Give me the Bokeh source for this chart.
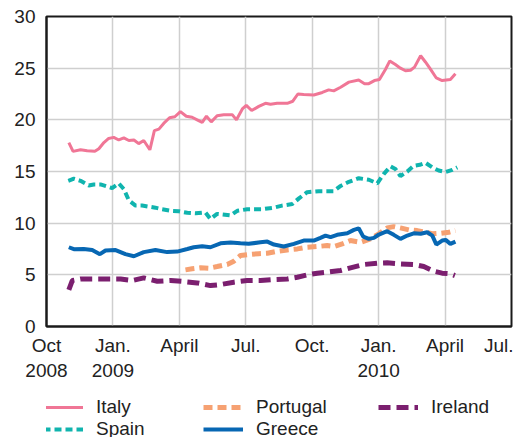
from bokeh.plotting import figure
from bokeh.layouts import column
from bokeh.models import Range1d, FixedTicker, Legend, LegendItem
from bokeh.embed import file_html
from bokeh.resources import INLINE

# x values are decimal years (Oct 2008 = 2008.75)
italy_x = [2008.834, 2008.850, 2008.878, 2008.903, 2008.932, 2008.947, 2008.966, 2008.984,
           2009.003, 2009.022, 2009.041, 2009.060, 2009.079, 2009.097, 2009.116, 2009.139,
           2009.156, 2009.173, 2009.191, 2009.213, 2009.233, 2009.254, 2009.276, 2009.298,
           2009.317, 2009.336, 2009.352, 2009.370, 2009.392, 2009.417, 2009.449, 2009.465,
           2009.487, 2009.502, 2009.522, 2009.549, 2009.574, 2009.593, 2009.618, 2009.656,
           2009.677, 2009.696, 2009.718, 2009.756, 2009.788, 2009.812, 2009.831, 2009.857,
           2009.888, 2009.925, 2009.947, 2009.963, 2009.984, 2010.003, 2010.026, 2010.042,
           2010.063, 2010.082, 2010.101, 2010.120, 2010.135, 2010.158, 2010.176, 2010.195,
           2010.217, 2010.239, 2010.270, 2010.289]
italy_y = [17.8, 16.95, 17.1, 17.0, 16.95, 17.2, 17.8, 18.2, 18.3, 18.05, 18.25, 18.0, 18.05,
           17.7, 18.0, 17.1, 18.95, 19.1, 19.65, 20.2, 20.3, 20.8, 20.35, 20.25, 20.0, 19.75,
           20.35, 19.8, 20.4, 20.5, 20.5, 20.0, 21.05, 21.4, 20.9, 21.3, 21.6, 21.5, 21.6, 21.6,
           21.8, 22.5, 22.45, 22.4, 22.65, 22.9, 22.8, 23.15, 23.65, 23.85, 23.5, 23.5, 23.8,
           23.9, 24.9, 25.7, 25.35, 25.0, 24.75, 24.8, 25.1, 26.2, 25.6, 24.9, 24.05, 23.8,
           23.9, 24.45]

spain_x = [2008.832, 2008.853, 2008.878, 2008.909, 2008.928, 2008.953, 2008.978, 2008.997,
           2009.022, 2009.041, 2009.060, 2009.085, 2009.110, 2009.135, 2009.160, 2009.185,
           2009.217, 2009.248, 2009.280, 2009.311, 2009.348, 2009.367, 2009.392, 2009.443,
           2009.468, 2009.505, 2009.562, 2009.606, 2009.637, 2009.675, 2009.700, 2009.731,
           2009.775, 2009.831, 2009.857, 2009.888, 2009.925, 2009.963, 2009.995, 2010.019,
           2010.045, 2010.063, 2010.082, 2010.108, 2010.132, 2010.155, 2010.176, 2010.202,
           2010.226, 2010.252, 2010.277, 2010.296]
spain_y = [14.1, 14.3, 14.1, 13.65, 13.75, 13.75, 13.55, 13.4, 13.85, 13.3, 12.2, 11.7, 11.7,
           11.6, 11.5, 11.35, 11.2, 11.15, 11.0, 10.95, 11.05, 10.4, 10.9, 10.75, 11.2, 11.35,
           11.35, 11.5, 11.7, 11.85, 12.4, 13.0, 13.1, 13.1, 13.6, 14.0, 14.35, 14.2, 13.85,
           14.75, 15.5, 15.25, 14.55, 15.0, 15.55, 15.65, 15.85, 15.4, 15.1, 14.95, 15.15, 15.4]

portugal_x = [2009.273, 2009.298, 2009.330, 2009.361, 2009.392, 2009.430, 2009.455, 2009.480,
              2009.511, 2009.549, 2009.581, 2009.618, 2009.656, 2009.694, 2009.731, 2009.769,
              2009.806, 2009.831, 2009.863, 2009.894, 2009.932, 2009.969, 2010.001, 2010.032,
              2010.057, 2010.082, 2010.114, 2010.145, 2010.176, 2010.202, 2010.233, 2010.264,
              2010.289]
portugal_y = [5.48, 5.58, 5.68, 5.64, 5.8, 6.0, 6.32, 6.87, 6.96, 7.05, 7.09, 7.28, 7.41, 7.51,
              7.67, 7.74, 7.83, 7.74, 8.0, 8.32, 8.15, 8.48, 8.97, 9.54, 9.67, 9.54, 9.35, 9.28,
              9.12, 8.97, 9.02, 9.12, 9.28]

greece_x = [2008.834, 2008.853, 2008.890, 2008.922, 2008.951, 2008.972, 2009.010, 2009.047,
            2009.079, 2009.116, 2009.160, 2009.204, 2009.242, 2009.280, 2009.304, 2009.336,
            2009.367, 2009.405, 2009.443, 2009.480, 2009.511, 2009.555, 2009.581, 2009.606,
            2009.643, 2009.681, 2009.718, 2009.756, 2009.781, 2009.800, 2009.819, 2009.844,
            2009.882, 2009.907, 2009.925, 2009.942, 2009.963, 2009.982, 2010.001, 2010.032,
            2010.057, 2010.082, 2010.108, 2010.132, 2010.158, 2010.183, 2010.202, 2010.217,
            2010.239, 2010.252, 2010.270, 2010.289]
greece_y = [7.67, 7.48, 7.5, 7.4, 7.0, 7.35, 7.4, 7.0, 6.8, 7.2, 7.4, 7.2, 7.25, 7.5, 7.67,
            7.77, 7.67, 8.05, 8.12, 8.05, 8.0, 8.15, 8.22, 7.93, 7.74, 8.0, 8.32, 8.32, 8.58,
            8.8, 8.64, 8.87, 9.02, 9.35, 9.5, 8.7, 8.48, 8.58, 8.9, 9.22, 8.87, 8.48, 8.8, 9.02,
            8.97, 9.12, 8.8, 7.93, 8.32, 8.38, 8.0, 8.22]

ireland_x = [2008.834, 2008.847, 2008.878, 2008.928, 2008.978, 2009.029, 2009.073, 2009.116,
             2009.167, 2009.217, 2009.267, 2009.317, 2009.367, 2009.405, 2009.455, 2009.505,
             2009.555, 2009.606, 2009.656, 2009.694, 2009.731, 2009.769, 2009.806, 2009.857,
             2009.894, 2009.944, 2009.995, 2010.032, 2010.082, 2010.132, 2010.170, 2010.208,
             2010.239, 2010.270, 2010.287]
ireland_y = [3.55, 4.45, 4.6, 4.6, 4.6, 4.6, 4.45, 4.7, 4.38, 4.45, 4.35, 4.22, 3.96, 4.06,
             4.29, 4.45, 4.45, 4.55, 4.6, 4.77, 5.0, 5.16, 5.26, 5.42, 5.68, 6.0, 6.13, 6.16,
             6.06, 6.0, 5.8, 5.35, 5.16, 5.1, 4.93]

x_ticks = [2008.75, 2009.0, 2009.25, 2009.5, 2009.75, 2010.0, 2010.25, 2010.5]
x_tick_labels = ["Oct\n2008", "Jan.\n2009", "April", "Jul.", "Oct.", "Jan.\n2010", "April", "Jul."]
y_ticks = [0, 5, 10, 15, 20, 25, 30]

FONT = "Liberation Sans"
TXT = "#222222"

series = [
    ("Italy", italy_x, italy_y, dict(line_color="#F07696", line_width=3)),
    ("Spain", spain_x, spain_y, dict(line_color="#10B4AE", line_width=4, line_dash="7 4")),
    ("Portugal", portugal_x, portugal_y, dict(line_color="#F6A172", line_width=5, line_dash="9 5")),
    ("Greece", greece_x, greece_y, dict(line_color="#0767B3", line_width=4)),
    ("Ireland", ireland_x, ireland_y, dict(line_color="#7B1F6F", line_width=5, line_dash="12 6")),
]

# ---------------- main chart ----------------
p = figure(width=513, height=396, output_backend="svg", toolbar_location=None,
           x_range=Range1d(2008.75, 2010.5), y_range=Range1d(0, 30),
           min_border_left=46, min_border_right=2, min_border_top=16, min_border_bottom=70)
p.background_fill_color = "white"
p.border_fill_color = "white"
p.outline_line_color = "#1a1a1a"
p.outline_line_width = 2

p.xaxis.ticker = FixedTicker(ticks=x_ticks)
p.xaxis.major_label_overrides = {t: l for t, l in zip(x_ticks, x_tick_labels)}
p.yaxis.ticker = FixedTicker(ticks=y_ticks)
for ax in (p.xaxis, p.yaxis):
    ax.axis_line_color = "#1a1a1a"
    ax.axis_line_width = 2
    ax.major_tick_in = 0
    ax.major_tick_out = 0
    ax.minor_tick_in = 0
    ax.minor_tick_out = 0
    ax.major_label_text_font = FONT
    ax.major_label_text_font_size = "19px"
    ax.major_label_text_color = TXT
p.xaxis.major_label_standoff = 8
p.yaxis.major_label_standoff = 11

p.xgrid.ticker = FixedTicker(ticks=x_ticks)
p.ygrid.ticker = FixedTicker(ticks=y_ticks)
for g in (p.xgrid, p.ygrid):
    g.grid_line_color = "#cfcfcf"
    g.grid_line_width = 1.5

for name, xs, ys, style in series:
    p.line(xs, ys, **style)

# ---------------- legend strip ----------------
lg = figure(width=513, height=41, output_backend="svg", toolbar_location=None,
            x_range=Range1d(0, 1), y_range=Range1d(0, 1),
            x_axis_location=None, y_axis_location=None,
            min_border_left=0, min_border_right=0, min_border_top=0, min_border_bottom=0)
lg.outline_line_color = None
lg.xgrid.visible = False
lg.ygrid.visible = False
lg.background_fill_color = "white"
lg.border_fill_color = "white"

leg_renderers = {}
for name, xs, ys, style in series:
    r = lg.line(xs, ys, **style)
    r.visible = False
    leg_renderers[name] = r

columns = [(["Italy", "Spain"], -3), (["Portugal", "Greece"], 157), (["Ireland"], 332)]
ITEM_H = 22
for names, lx in columns:
    h = ITEM_H * len(names)
    leg = Legend(items=[LegendItem(label=n, renderers=[leg_renderers[n]]) for n in names],
                 location=(lx, 41 - h), orientation="vertical",
                 glyph_width=40, glyph_height=20, label_standoff=13,
                 spacing=0, padding=0, margin=0,
                 label_text_font=FONT, label_text_font_size="19px", label_text_color=TXT,
                 border_line_alpha=0, background_fill_alpha=0)
    lg.add_layout(leg, "center")

layout = column(p, lg, spacing=0)
open("out.html", "w").write(file_html(layout, INLINE))
